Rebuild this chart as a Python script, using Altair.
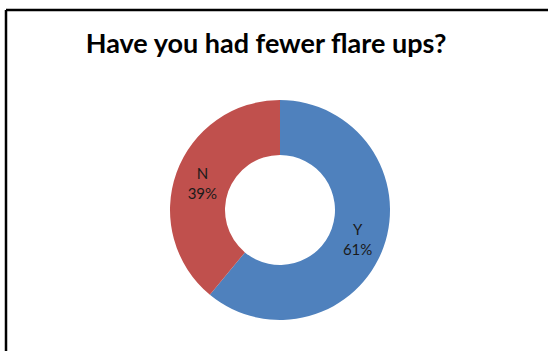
import altair as alt
import pandas as pd

# Survey answers and their shares (percent)
answers = ["Y", "N"]
shares = [61, 39]
colors = ["#4F81BD", "#C0504D"]
title_text = ["Have you had fewer flare ups?"]

df = pd.DataFrame({
    "answer": answers,
    "share": shares,
    "order": list(range(len(answers))),
    "pct": [f"{s}%" for s in shares],
})
title_df = pd.DataFrame({"title": title_text})

W, H = 548, 351
CX, CY = 280, 210
R_OUT, R_IN = 110, 55
R_LBL = (R_OUT + R_IN) / 2

base = alt.Chart(df).encode(
    theta=alt.Theta("share:Q", stack=True),
    order=alt.Order("order:Q"),
)

donut = base.mark_arc(outerRadius=R_OUT, innerRadius=R_IN).encode(
    x=alt.value(CX),
    y=alt.value(CY),
    color=alt.Color("answer:N", scale=alt.Scale(domain=answers, range=colors), legend=None),
)

label_style = dict(radius=R_LBL, font="Lato", fontSize=15, color="#1a1a1a",
                   align="center", baseline="middle")
name_lbl = base.mark_text(dy=-8, **label_style).encode(
    x=alt.value(CX), y=alt.value(CY), text="answer:N")
pct_lbl = base.mark_text(dy=12, **label_style).encode(
    x=alt.value(CX), y=alt.value(CY), text="pct:N")

# chart heading
heading = alt.Chart(title_df).mark_text(
    font="Lato", fontSize=27, fontWeight="bold", color="#000000",
    align="center", baseline="middle",
).encode(x=alt.value(266), y=alt.value(45), text="title:N")

# chart frame: left and top edges
frame_left = alt.Chart(title_df).mark_rule(color="#000000", strokeWidth=2.5).encode(
    x=alt.value(6), y=alt.value(10), y2=alt.value(H))
frame_top = alt.Chart(title_df).mark_rule(color="#000000", strokeWidth=2.5).encode(
    y=alt.value(10), x=alt.value(6), x2=alt.value(W))

chart = alt.layer(frame_left, frame_top, heading, donut, name_lbl, pct_lbl).properties(
    width=W,
    height=H,
    autosize=alt.AutoSizeParams(type="none"),
    padding=0,
).configure_view(stroke=None)

chart.save("out.html", embed_options={"renderer": "svg", "actions": False})
